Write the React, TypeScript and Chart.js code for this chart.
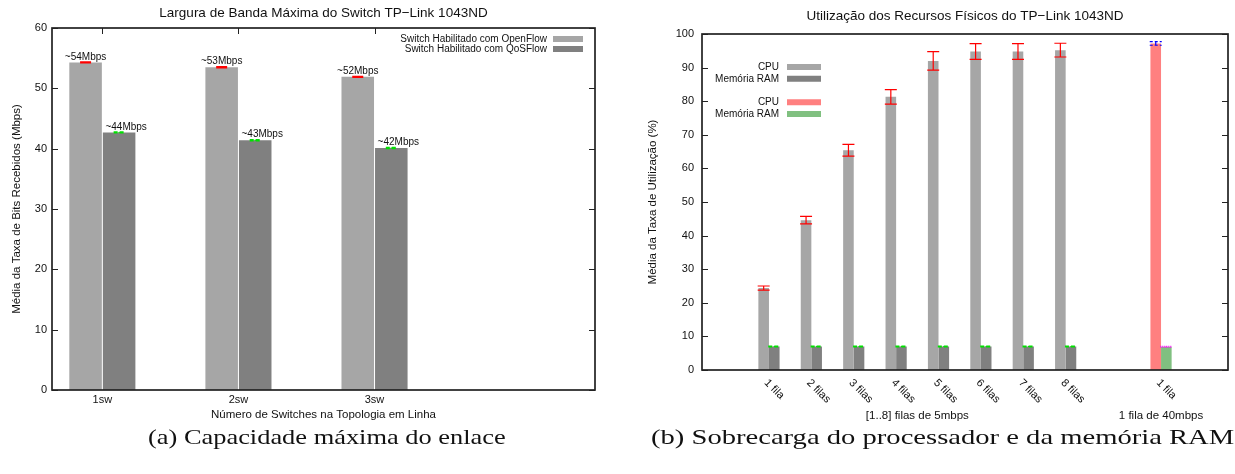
import React, { useEffect, useRef } from 'react';
import { Chart, registerables } from 'chart.js';

Chart.register(...registerables);

// ---------- Left chart data ----------
const switchCategories = ['1sw', '2sw', '3sw'];
const openflowValues = [54.3, 53.5, 51.9];
const openflowErrors = [0.08, 0.08, 0.08];
const qosflowValues = [42.7, 41.4, 40.1];
const qosflowErrors = [0.08, 0.08, 0.08];
const openflowLabels = ['~54Mbps', '~53Mbps', '~52Mbps'];
const qosflowLabels = ['~44Mbps', '~43Mbps', '~42Mbps'];
const leftYTicks = [0, 10, 20, 30, 40, 50, 60];

// ---------- Right chart data ----------
const queueLabels = ['1 fila', '2 filas', '3 filas', '4 filas', '5 filas', '6 filas', '7 filas', '8 filas', '1 fila'];
const queuePositions = [0, 1, 2, 3, 4, 5, 6, 7, 9.25];
const queueGroup = [0, 0, 0, 0, 0, 0, 0, 0, 1];
const groupTitles = ['[1..8] filas de 5mbps', '1 fila de 40mbps'];
const cpuValues = [24.4, 44.6, 65.4, 81.3, 92.0, 94.8, 94.8, 95.2, 97.2];
const cpuErrors = [0.6, 1.1, 1.75, 2.15, 2.75, 2.35, 2.35, 2.05, 0.55];
const ramValues = [7.0, 7.0, 7.0, 7.0, 7.0, 7.0, 7.0, 7.0, 6.9];
const ramErrors = [0.12, 0.12, 0.12, 0.12, 0.12, 0.12, 0.12, 0.12, 0.12];
const rightYTicks = [0, 10, 20, 30, 40, 50, 60, 70, 80, 90, 100];

const FONT = '"Liberation Sans", Arial, Helvetica, sans-serif';
const TEXT = '#111';
const LIGHT = '#a6a6a6';
const DARK = '#808080';
const PINK = '#ff8080';
const GREEN = '#80c080';

function framePlugin(topTicks: boolean) {
  return {
    id: 'gnuFrame',
    afterDatasetsDraw(chart: any) {
      const { ctx, chartArea, scales } = chart;
      const { left, right, top, bottom } = chartArea;
      ctx.save();
      ctx.strokeStyle = '#222';
      ctx.lineWidth = 1;
      ctx.beginPath();
      scales.y.ticks.forEach((t: any) => {
        const py = Math.round(scales.y.getPixelForValue(t.value)) + 0.5;
        ctx.moveTo(left, py);
        ctx.lineTo(left + 6, py);
        ctx.moveTo(right, py);
        ctx.lineTo(right - 6, py);
      });
      if (topTicks) {
        scales.x.ticks.forEach((t: any) => {
          const px = Math.round(scales.x.getPixelForValue(t.value)) + 0.5;
          ctx.moveTo(px, top);
          ctx.lineTo(px, top + 6);
        });
      }
      ctx.stroke();
      ctx.lineWidth = 1.7;
      ctx.strokeRect(left, top, right - left, bottom - top);
      ctx.restore();
    },
  };
}

type ErrSpec = { errors: number[]; colors: string[]; dashes: number[][] };

function errorBarsPlugin(specs: ErrSpec[], capHalf: number, lineWidth: number) {
  return {
    id: 'errorBars',
    afterDatasetsDraw(chart: any) {
      const { ctx, scales } = chart;
      ctx.save();
      specs.forEach((spec, d) => {
        const meta = chart.getDatasetMeta(d);
        const values = chart.data.datasets[d].data;
        meta.data.forEach((bar: any, i: number) => {
          const v = values[i].y;
          const e = spec.errors[i];
          const yHi = scales.y.getPixelForValue(v + e);
          const yLo = scales.y.getPixelForValue(v - e);
          ctx.strokeStyle = spec.colors[i];
          ctx.setLineDash(spec.dashes[i]);
          ctx.lineWidth = lineWidth;
          ctx.beginPath();
          ctx.moveTo(bar.x, yLo);
          ctx.lineTo(bar.x, yHi);
          ctx.moveTo(bar.x - capHalf, yHi);
          ctx.lineTo(bar.x + capHalf, yHi);
          ctx.moveTo(bar.x - capHalf, yLo);
          ctx.lineTo(bar.x + capHalf, yLo);
          ctx.stroke();
        });
      });
      ctx.restore();
    },
  };
}

const valueLabelsPlugin = {
  id: 'valueLabels',
  afterDatasetsDraw(chart: any) {
    const { ctx, scales } = chart;
    ctx.save();
    ctx.font = `10px ${FONT}`;
    ctx.fillStyle = TEXT;
    ctx.textAlign = 'center';
    ctx.textBaseline = 'middle';
    const sets: [number[], string[], number][] = [
      [openflowValues, openflowLabels, 0],
      [qosflowValues, qosflowLabels, 7],
    ];
    sets.forEach(([vals, labels, dx], d) => {
      chart.getDatasetMeta(d).data.forEach((bar: any, i: number) => {
        ctx.fillText(labels[i], bar.x + dx, scales.y.getPixelForValue(vals[i]) - 5.5);
      });
    });
    ctx.restore();
  },
};

type LegendItem = { text: string; color: string } | null;

function keyPlugin(items: LegendItem[], anchor: (ca: any) => { textRight: number; y0: number }, step: number, swGap: number, swW: number) {
  return {
    id: 'gnuKey',
    afterDraw(chart: any) {
      const { ctx, chartArea } = chart;
      const { textRight, y0 } = anchor(chartArea);
      ctx.save();
      ctx.font = `10px ${FONT}`;
      ctx.textAlign = 'right';
      ctx.textBaseline = 'middle';
      items.forEach((it, i) => {
        if (!it) return;
        const y = y0 + i * step;
        ctx.fillStyle = TEXT;
        ctx.fillText(it.text, textRight, y);
        ctx.fillStyle = it.color;
        ctx.fillRect(textRight + swGap, y - 3, swW, 6);
      });
      ctx.restore();
    },
  };
}

const rotatedTicksPlugin = {
  id: 'rotatedTicks',
  afterDraw(chart: any) {
    const { ctx, chartArea, scales } = chart;
    ctx.save();
    ctx.fillStyle = TEXT;
    ctx.font = `11px ${FONT}`;
    ctx.textAlign = 'left';
    ctx.textBaseline = 'middle';
    queuePositions.forEach((p, i) => {
      const px = scales.x.getPixelForValue(p);
      ctx.save();
      ctx.translate(px - 3, chartArea.bottom + 11);
      ctx.rotate(Math.PI / 4);
      ctx.fillText(queueLabels[i], 0, 0);
      ctx.restore();
    });
    ctx.font = `11.5px ${FONT}`;
    ctx.textAlign = 'center';
    groupTitles.forEach((t, g) => {
      const ps = queuePositions.filter((_, i) => queueGroup[i] === g);
      const mid = (Math.min(...ps) + Math.max(...ps)) / 2;
      ctx.fillText(t, scales.x.getPixelForValue(mid), chartArea.bottom + 46);
    });
    ctx.restore();
  },
};

function leftConfig(): any {
  return {
    type: 'bar',
    data: {
      datasets: [
        {
          label: 'Switch Habilitado com OpenFlow',
          data: switchCategories.map((_, i) => ({ x: i, y: openflowValues[i] })),
          backgroundColor: LIGHT,
          borderWidth: 0,
          categoryPercentage: 0.493,
          barPercentage: 0.97,
        },
        {
          label: 'Switch Habilitado com QoSFlow',
          data: switchCategories.map((_, i) => ({ x: i, y: qosflowValues[i] })),
          backgroundColor: DARK,
          borderWidth: 0,
          categoryPercentage: 0.493,
          barPercentage: 0.97,
        },
      ],
    },
    options: {
      responsive: false,
      animation: false,
      events: [],
      layout: { padding: { left: 0, right: 25, top: 0, bottom: 0 } },
      plugins: {
        legend: { display: false },
        tooltip: { enabled: false },
        title: {
          display: true,
          fullSize: false,
          text: 'Largura de Banda Máxima do Switch TP−Link 1043ND',
          color: TEXT,
          font: { family: FONT, size: 13.5, weight: 'normal' },
          padding: { top: 5.5, bottom: 6.3 },
        },
      },
      scales: {
        x: {
          type: 'linear',
          min: -0.37,
          max: 3.62,
          offset: false,
          grid: { display: false, drawTicks: false, offset: false },
          border: { display: false },
          afterBuildTicks: (s: any) => {
            s.ticks = switchCategories.map((_, i) => ({ value: i }));
          },
          afterFit: (s: any) => {
            s.height = 35;
          },
          ticks: {
            callback: (v: number) => switchCategories[v] ?? '',
            color: TEXT,
            font: { family: FONT, size: 11 },
            padding: 3,
            maxRotation: 0,
            autoSkip: false,
          },
          title: {
            display: true,
            text: 'Número de Switches na Topologia em Linha',
            color: TEXT,
            font: { family: FONT, size: 11.5 },
            padding: { top: 0, bottom: 3 },
          },
        },
        y: {
          min: 0,
          max: 60,
          grid: { display: false, drawTicks: false },
          border: { display: false },
          afterBuildTicks: (s: any) => {
            s.ticks = leftYTicks.map((v) => ({ value: v }));
          },
          afterFit: (s: any) => {
            s.width = 52;
          },
          ticks: { color: TEXT, font: { family: FONT, size: 11 }, padding: 5 },
          title: {
            display: true,
            text: 'Média da Taxa de Bits Recebidos (Mbps)',
            color: TEXT,
            font: { family: FONT, size: 11.5 },
            padding: { top: 10, bottom: 0 },
          },
        },
      },
    },
    plugins: [
      framePlugin(true),
      errorBarsPlugin(
        [
          { errors: openflowErrors, colors: openflowErrors.map(() => '#ff0000'), dashes: openflowErrors.map(() => []) },
          { errors: qosflowErrors, colors: qosflowErrors.map(() => '#00e000'), dashes: qosflowErrors.map(() => [4, 2]) },
        ],
        5.5,
        1.5
      ),
      valueLabelsPlugin,
      keyPlugin(
        [
          { text: 'Switch Habilitado com OpenFlow', color: LIGHT },
          { text: 'Switch Habilitado com QoSFlow', color: DARK },
        ],
        (ca) => ({ textRight: ca.right - 48, y0: ca.top + 11 }),
        10,
        6,
        30
      ),
    ],
  };
}

function rightConfig(): any {
  const lastIdx = queueLabels.length - 1;
  return {
    type: 'bar',
    data: {
      datasets: [
        {
          label: 'CPU',
          data: queuePositions.map((p, i) => ({ x: p, y: cpuValues[i] })),
          backgroundColor: queueGroup.map((g) => (g === 0 ? LIGHT : PINK)),
          borderWidth: 0,
          categoryPercentage: 0.5,
          barPercentage: 1,
        },
        {
          label: 'Memória RAM',
          data: queuePositions.map((p, i) => ({ x: p, y: ramValues[i] })),
          backgroundColor: queueGroup.map((g) => (g === 0 ? DARK : GREEN)),
          borderWidth: 0,
          categoryPercentage: 0.5,
          barPercentage: 1,
        },
      ],
    },
    options: {
      responsive: false,
      animation: false,
      events: [],
      layout: { padding: { left: 0, right: 7, top: 0, bottom: 0 } },
      plugins: {
        legend: { display: false },
        tooltip: { enabled: false },
        title: {
          display: true,
          fullSize: false,
          text: 'Utilização dos Recursos Físicos do TP−Link 1043ND',
          color: TEXT,
          font: { family: FONT, size: 13.5, weight: 'normal' },
          padding: { top: 8.5, bottom: 9.3 },
        },
      },
      scales: {
        x: {
          type: 'linear',
          min: -1.58,
          max: 10.83,
          offset: false,
          grid: { display: false, drawTicks: false, offset: false },
          border: { display: false },
          afterBuildTicks: (s: any) => {
            s.ticks = queuePositions.map((p) => ({ value: p }));
          },
          afterFit: (s: any) => {
            s.height = 60;
          },
          ticks: { display: false },
        },
        y: {
          min: 0,
          max: 100,
          grid: { display: false, drawTicks: false },
          border: { display: false },
          afterBuildTicks: (s: any) => {
            s.ticks = rightYTicks.map((v) => ({ value: v }));
          },
          afterFit: (s: any) => {
            s.width = 77;
          },
          ticks: { color: TEXT, font: { family: FONT, size: 11 }, padding: 8 },
          title: {
            display: true,
            text: 'Média da Taxa de Utilização (%)',
            color: TEXT,
            font: { family: FONT, size: 11.5 },
            padding: { top: 21, bottom: 0 },
          },
        },
      },
    },
    plugins: [
      framePlugin(false),
      errorBarsPlugin(
        [
          {
            errors: cpuErrors,
            colors: queueGroup.map((g) => (g === 0 ? '#ff0000' : '#0000ff')),
            dashes: queueGroup.map((g) => (g === 0 ? [] : [3, 2])),
          },
          {
            errors: ramErrors,
            colors: queueGroup.map((g) => (g === 0 ? '#00e000' : '#ff00ff')),
            dashes: queueGroup.map((g) => (g === 0 ? [4, 2] : [1, 1])),
          },
        ],
        6,
        1.2
      ),
      rotatedTicksPlugin,
      keyPlugin(
        [
          { text: 'CPU', color: LIGHT },
          { text: 'Memória RAM', color: DARK },
          null,
          { text: 'CPU', color: PINK },
          { text: 'Memória RAM', color: GREEN },
        ],
        (ca) => ({ textRight: ca.left + 77, y0: ca.top + 33 }),
        11.75,
        8,
        34
      ),
    ],
  };
}

export default function App() {
  const leftRef = useRef<HTMLCanvasElement | null>(null);
  const rightRef = useRef<HTMLCanvasElement | null>(null);

  useEffect(() => {
    const a = new Chart(leftRef.current as HTMLCanvasElement, leftConfig());
    const b = new Chart(rightRef.current as HTMLCanvasElement, rightConfig());
    return () => {
      a.destroy();
      b.destroy();
    };
  }, []);

  const captionStyle: React.CSSProperties = {
    position: 'absolute',
    top: 424,
    height: 26,
    lineHeight: '26px',
    fontFamily: '"Liberation Serif", "Times New Roman", serif',
    fontSize: 22,
    color: '#111',
    whiteSpace: 'nowrap',
    transformOrigin: 'left center',
  };

  return (
    <div
      style={{
        position: 'absolute',
        left: 0,
        top: 0,
        width: 1235,
        height: 474,
        overflow: 'hidden',
        background: '#fff',
      }}
    >
      <canvas
        ref={leftRef}
        width={620}
        height={425}
        style={{ position: 'absolute', left: 0, top: 0, width: 620, height: 425 }}
      />
      <canvas
        ref={rightRef}
        width={610}
        height={430}
        style={{ position: 'absolute', left: 625, top: 0, width: 610, height: 430 }}
      />
      <div style={{ ...captionStyle, left: 148, transform: 'scaleX(1.2)' }}>(a) Capacidade máxima do enlace</div>
      <div style={{ ...captionStyle, left: 651, transform: 'scaleX(1.3)' }}>
        (b) Sobrecarga do processador e da memória RAM
      </div>
    </div>
  );
}
